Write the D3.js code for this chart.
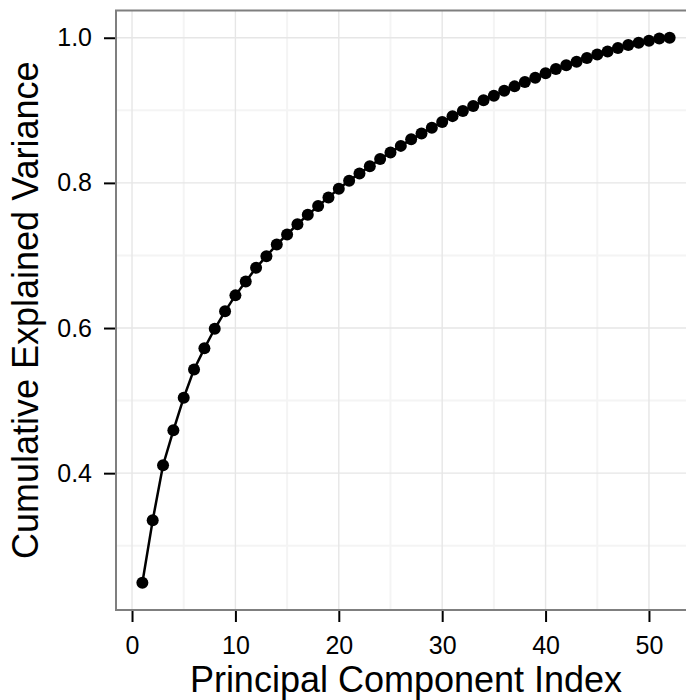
<!DOCTYPE html>
<html>
<head>
<meta charset="utf-8">
<script src="https://cdn.jsdelivr.net/npm/d3@7"></script>
<style>
  body { margin: 0; background: #fff; }
  svg { display: block; font-family: "Liberation Sans", Arial, Helvetica, sans-serif; }
</style>
</head>
<body>
<svg id="chart"></svg>
<script>
// principal component index and cumulative explained variance
var components = [1, 2, 3, 4, 5, 6, 7, 8, 9, 10, 11, 12, 13, 14, 15, 16, 17, 18, 19, 20,
  21, 22, 23, 24, 25, 26, 27, 28, 29, 30, 31, 32, 33, 34, 35, 36, 37, 38, 39, 40,
  41, 42, 43, 44, 45, 46, 47, 48, 49, 50, 51, 52];
var cumVariance = [0.249, 0.335, 0.411, 0.459, 0.504, 0.543, 0.572, 0.599, 0.623, 0.645,
  0.664, 0.683, 0.699, 0.715, 0.729, 0.743, 0.756, 0.768, 0.780, 0.792,
  0.803, 0.813, 0.823, 0.833, 0.842, 0.851, 0.860, 0.868, 0.876, 0.884,
  0.892, 0.899, 0.906, 0.914, 0.920, 0.927, 0.933, 0.939, 0.945, 0.951,
  0.957, 0.962, 0.967, 0.972, 0.977, 0.981, 0.986, 0.990, 0.993, 0.996,
  0.999, 1.000];
var xTicks = [0, 10, 20, 30, 40, 50];
var xMinor = [5, 15, 25, 35, 45];
var yTicks = [0.4, 0.6, 0.8, 1.0];
var yMinor = [0.3, 0.5, 0.7, 0.9];

var width = 686,
    height = 700;
var panel = { left: 116, right: 696, top: 10.5, bottom: 610 };

var data = components.map(function(c, i) { return { x: c, y: cumVariance[i] }; });

// ggplot-style 5% expansion on both axes
var xExt = d3.extent(components), xPad = (xExt[1] - xExt[0]) * 0.05;
var yExt = d3.extent(cumVariance), yPad = (yExt[1] - yExt[0]) * 0.05;

var x = d3.scaleLinear()
    .domain([xExt[0] - xPad, xExt[1] + xPad])
    .range([panel.left, panel.right]);
var y = d3.scaleLinear()
    .domain([yExt[0] - yPad, yExt[1] + yPad])
    .range([panel.bottom, panel.top]);

var svg = d3.select("#chart")
    .attr("width", width)
    .attr("height", height);

svg.append("rect")
    .attr("x", panel.left).attr("y", panel.top)
    .attr("width", panel.right - panel.left).attr("height", panel.bottom - panel.top)
    .attr("fill", "#fff");

var grid = svg.append("g").attr("class", "grid");

grid.selectAll("line.xminor").data(xMinor).enter().append("line")
    .attr("x1", function(d) { return x(d); }).attr("x2", function(d) { return x(d); })
    .attr("y1", panel.top).attr("y2", panel.bottom)
    .attr("stroke", "#f4f4f4").attr("stroke-width", 2);
grid.selectAll("line.yminor").data(yMinor).enter().append("line")
    .attr("y1", function(d) { return y(d); }).attr("y2", function(d) { return y(d); })
    .attr("x1", panel.left).attr("x2", panel.right)
    .attr("stroke", "#f4f4f4").attr("stroke-width", 2);
grid.selectAll("line.xmajor").data(xTicks).enter().append("line")
    .attr("x1", function(d) { return x(d); }).attr("x2", function(d) { return x(d); })
    .attr("y1", panel.top).attr("y2", panel.bottom)
    .attr("stroke", "#e6e6e6").attr("stroke-width", 1.4);
grid.selectAll("line.ymajor").data(yTicks).enter().append("line")
    .attr("y1", function(d) { return y(d); }).attr("y2", function(d) { return y(d); })
    .attr("x1", panel.left).attr("x2", panel.right)
    .attr("stroke", "#e6e6e6").attr("stroke-width", 1.4);

var line = d3.line()
    .x(function(d) { return x(d.x); })
    .y(function(d) { return y(d.y); });

svg.append("path")
    .datum(data)
    .attr("d", line)
    .attr("fill", "none")
    .attr("stroke", "#000")
    .attr("stroke-width", 2.5);

svg.append("g").selectAll("circle")
    .data(data)
    .enter()
    .append("circle")
    .attr("cx", function(d) { return x(d.x); })
    .attr("cy", function(d) { return y(d.y); })
    .attr("r", 6)
    .attr("fill", "#000");

// panel border
svg.append("rect")
    .attr("x", panel.left).attr("y", panel.top)
    .attr("width", panel.right - panel.left).attr("height", panel.bottom - panel.top)
    .attr("fill", "none")
    .attr("stroke", "#7f7f7f")
    .attr("stroke-width", 2);

var xAxis = svg.append("g")
    .attr("transform", "translate(0," + (panel.bottom + 1) + ")")
    .call(d3.axisBottom(x).tickValues(xTicks).tickFormat(d3.format("d")).tickSize(11).tickPadding(14));
var yAxis = svg.append("g")
    .attr("transform", "translate(" + (panel.left - 1) + ",0)")
    .call(d3.axisLeft(y).tickValues(yTicks).tickFormat(d3.format(".1f")).tickSize(11).tickPadding(12));

[xAxis, yAxis].forEach(function(a) {
  a.select(".domain").remove();
  a.selectAll(".tick line").attr("stroke", "#000").attr("stroke-width", 2);
  a.selectAll(".tick text")
    .attr("fill", "#000")
    .style("font-size", "25px")
    .style("font-family", "'Liberation Sans', Arial, sans-serif");
});

svg.append("text")
    .attr("x", (panel.left + panel.right) / 2)
    .attr("y", 692)
    .attr("text-anchor", "middle")
    .style("font-size", "36px")
    .text("Principal Component Index");

svg.append("text")
    .attr("transform", "translate(38," + (panel.top + panel.bottom) / 2 + ") rotate(-90)")
    .attr("text-anchor", "middle")
    .style("font-size", "36px")
    .text("Cumulative Explained Variance");
</script>
</body>
</html>
